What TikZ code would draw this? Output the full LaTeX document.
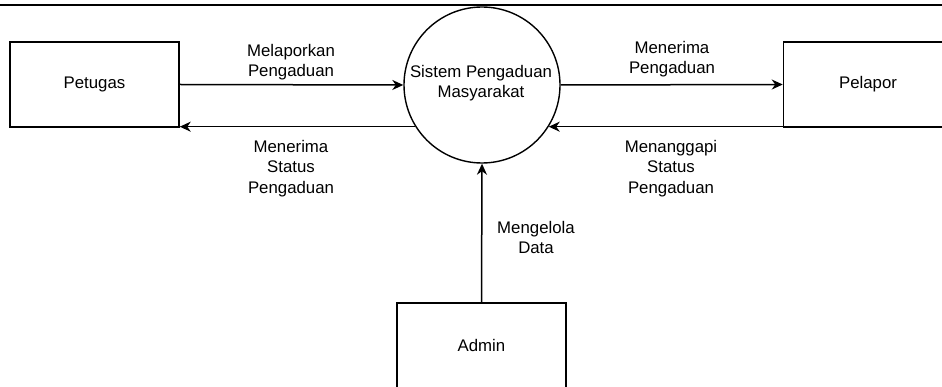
\documentclass[tikz,border=0pt]{standalone}
\usepackage{fontspec}
\setmainfont{Liberation Sans}
\usetikzlibrary{arrows.meta}
\begin{document}
\begin{tikzpicture}[x=1pt,y=-1pt,
  ent/.style={draw,line width=1.5pt,minimum width=169pt,minimum height=85pt,inner sep=0pt,
    font=\fontsize{16.8}{20.5}\selectfont},
  proc/.style={draw,circle,line width=1.4pt,minimum size=156pt,inner sep=0pt},
  lbl/.style={align=center,inner sep=0pt,anchor=north,font=\fontsize{16.8}{20.5}\selectfont},
  flow/.style={line width=1.5pt,-{Stealth[length=11pt,width=10pt,inset=3.5pt]}}]
\useasboundingbox (0,0) rectangle (942,387);
\clip (0,0) rectangle (942,387);
\coordinate (tl) at (0,5.5);
\coordinate (tr) at (942,5.5);
\draw[line width=2pt] (tl) -- (tr);
\node[ent] (pet) at (94.5,84.5) {Petugas};
\node[ent] (pel) at (868,84.5) {Pelapor};
\node[ent] (adm) at (481.5,345.5) {Admin};
\node[proc] (sys) at (482,85) {};
\node[lbl] (syst) at (481,65) {Sistem Pengaduan\\Masyarakat};
\draw[flow] (pet.east) -- (sys.west);
\draw[flow] (sys.212) -- (sys.212 -| pet.east);
\draw[flow] (sys.east) -- (pel.west);
\draw[flow] (sys.328 -| pel.west) -- (sys.328);
\draw[flow] (adm.north) -- (sys.south);
\node[lbl] (l1) at (291,44) {Melaporkan\\Pengaduan};
\node[lbl] (l2) at (672,41) {Menerima\\Pengaduan};
\node[lbl] (l3) at (291,140) {Menerima\\Status\\Pengaduan};
\node[lbl] (l4) at (671,140) {Menanggapi\\Status\\Pengaduan};
\node[lbl] (l5) at (536,221) {Mengelola\\Data};
\end{tikzpicture}
\end{document}
